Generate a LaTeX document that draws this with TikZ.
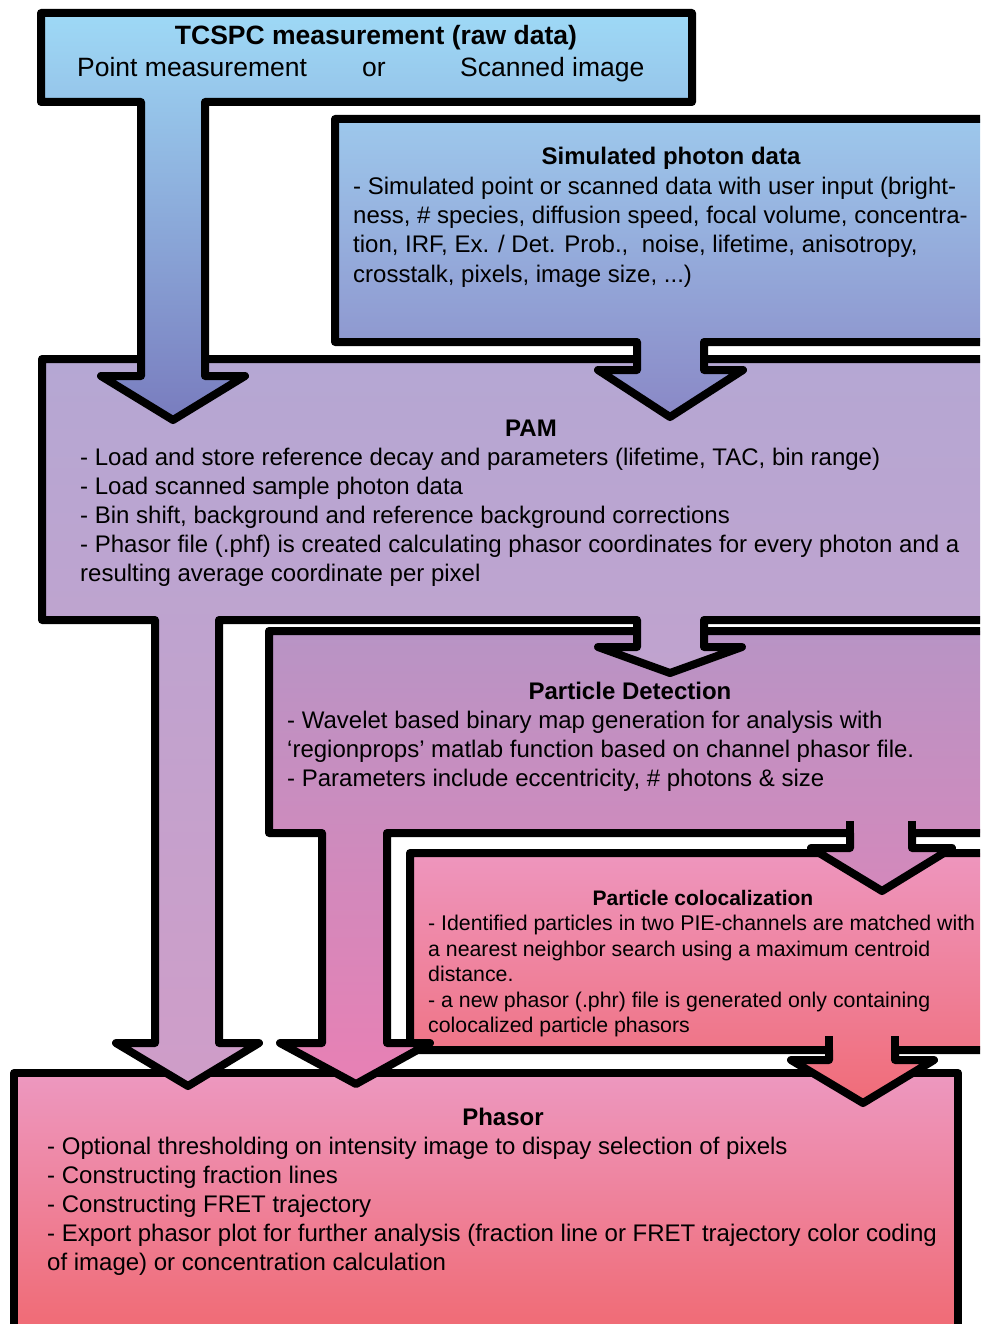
\documentclass[tikz,border=0pt]{standalone}
\usepackage{fontspec}
\setmainfont{Liberation Sans}
\definecolor{tcA}{RGB}{158,217,246}
\definecolor{tcB}{RGB}{121,124,190}
\definecolor{siA}{RGB}{157,200,236}
\definecolor{siB}{RGB}{138,136,198}
\definecolor{paA}{RGB}{181,167,211}
\definecolor{paB}{RGB}{207,157,200}
\definecolor{pdA}{RGB}{184,148,197}
\definecolor{pdB}{RGB}{232,128,180}
\definecolor{coA}{RGB}{238,150,190}
\definecolor{coB}{RGB}{240,108,120}
\definecolor{phA}{RGB}{237,152,192}
\definecolor{phB}{RGB}{240,104,112}
\tikzset{
  blk/.style={draw=black, line width=8pt, line join=round},
  body/.style={font=\fontsize{24}{29}\selectfont, inner sep=0pt, anchor=base west},
  ttl/.style={font=\bfseries\fontsize{24}{29}\selectfont, inner sep=0pt, anchor=base},
  sbody/.style={font=\fontsize{21.3}{25}\selectfont, inner sep=0pt, anchor=base west},
  sttl/.style={font=\bfseries\fontsize{21}{25}\selectfont, inner sep=0pt, anchor=base},
  bbody/.style={font=\fontsize{26.5}{30}\selectfont, inner sep=0pt, anchor=base west},
  bttl/.style={font=\bfseries\fontsize{26.5}{30}\selectfont, inner sep=0pt, anchor=base}
}
\begin{document}
\begin{tikzpicture}[x=1pt,y=-1pt]
\useasboundingbox (0,0) rectangle (980,1324);
\clip (0,0) rectangle (980,1324);
% Phasor box
\path[blk, top color=phA, bottom color=phB] (14,1073) -- (958,1073) -- (958,1345) -- (14,1345) -- cycle;
% Colocalization
\path[blk, top color=coA, bottom color=coB] (410,853) -- (995,853) -- (995,1050) -- (895,1050) -- (895,1060) -- (934,1060) -- (863,1103) -- (791,1060) -- (829,1060) -- (829,1050) -- (410,1050) -- cycle;
\draw[blk] (829,1036) -- (829,1050) (895,1036) -- (895,1050);
% Particle detection
\path[blk, top color=pdA, bottom color=pdB] (269,631) -- (995,631) -- (995,833) -- (912,833) -- (912,848) -- (952,848) -- (882,891) -- (811,848) -- (850,848) -- (850,833) -- (387,833) -- (387,1043) -- (430,1043) -- (356,1084) -- (280,1043) -- (322,1043) -- (322,833) -- (269,833) -- cycle;
\draw[blk] (850,821) -- (850,833) (912,821) -- (912,833);
% PAM
\path[blk, top color=paA, bottom color=paB] (42,359) -- (995,359) -- (995,620) -- (704,620) -- (704,647) -- (742,647) -- (670,673) -- (598,647) -- (637,647) -- (637,620) -- (219,620) -- (219,1043) -- (259,1043) -- (188,1086) -- (116,1043) -- (155,1043) -- (155,620) -- (42,620) -- cycle;
% Simulated
\path[blk, top color=siA, bottom color=siB] (335,119) -- (995,119) -- (995,342) -- (704,342) -- (704,370) -- (743,370) -- (670,417) -- (598,370) -- (637,370) -- (637,342) -- (335,342) -- cycle;
% TCSPC
\path[blk, top color=tcA, bottom color=tcB] (41,13) -- (692,13) -- (692,102) -- (205,102) -- (205,376) -- (245,376) -- (173,420) -- (101,376) -- (141,376) -- (141,102) -- (41,102) -- cycle;

% texts
\node[bttl] (tc0) at (376,45) {TCSPC measurement (raw data)};
\node[bbody] (tc1) at (77,77) {Point measurement};
\node[bbody] (tc2) at (362,77) {or};
\node[bbody] (tc3) at (460,77) {Scanned image};

\node[ttl] (si0) at (671,165) {Simulated photon data};
\node[body] (si1) at (353,195) {- Simulated point or scanned data with user input (bright-};
\node[body] (si2) at (353,224) {ness, \# species, diffusion speed, focal volume, concentra-};
\node[body] (si3) at (353,253) {tion, IRF, Ex. / Det. Prob.,\ \ noise, lifetime, anisotropy,};
\node[body] (si4) at (353,282) {crosstalk, pixels, image size, ...)};

\node[ttl] (pa0) at (531,436) {PAM};
\node[body] (pa1) at (80,465) {- Load and store reference decay and parameters (lifetime, TAC, bin range)};
\node[body] (pa2) at (80,494) {- Load scanned sample photon data};
\node[body] (pa3) at (80,523) {- Bin shift, background and reference background corrections};
\node[body] (pa4) at (80,552) {- Phasor file (.phf) is created calculating phasor coordinates for every photon and a};
\node[body] (pa5) at (80,581) {resulting average coordinate per pixel};

\node[ttl] (pd0) at (630,699) {Particle Detection};
\node[body] (pd1) at (287,728) {- Wavelet based binary map generation for analysis with};
\node[body] (pd2) at (287,757) {‘regionprops’ matlab function based on channel phasor file.};
\node[body] (pd3) at (287,786) {- Parameters include eccentricity, \# photons \& size};

\node[sttl] (co0) at (703,905) {Particle colocalization};
\node[sbody] (co1) at (428,930) {- Identified particles in two PIE-channels are matched with};
\node[sbody] (co2) at (428,956) {a nearest neighbor search using a maximum centroid};
\node[sbody] (co3) at (428,981) {distance.};
\node[sbody] (co4) at (428,1007) {- a new phasor (.phr) file is generated only containing};
\node[sbody] (co5) at (428,1032) {colocalized particle phasors};

\node[ttl] (ph0) at (503,1125) {Phasor};
\node[body] (ph1) at (47,1154) {- Optional thresholding on intensity image to dispay selection of pixels};
\node[body] (ph2) at (47,1183) {- Constructing fraction lines};
\node[body] (ph3) at (47,1212) {- Constructing FRET trajectory};
\node[body] (ph4) at (47,1241) {- Export phasor plot for further analysis (fraction line or FRET trajectory color coding};
\node[body] (ph5) at (47,1270) {of image) or concentration calculation};
\end{tikzpicture}
\end{document}
